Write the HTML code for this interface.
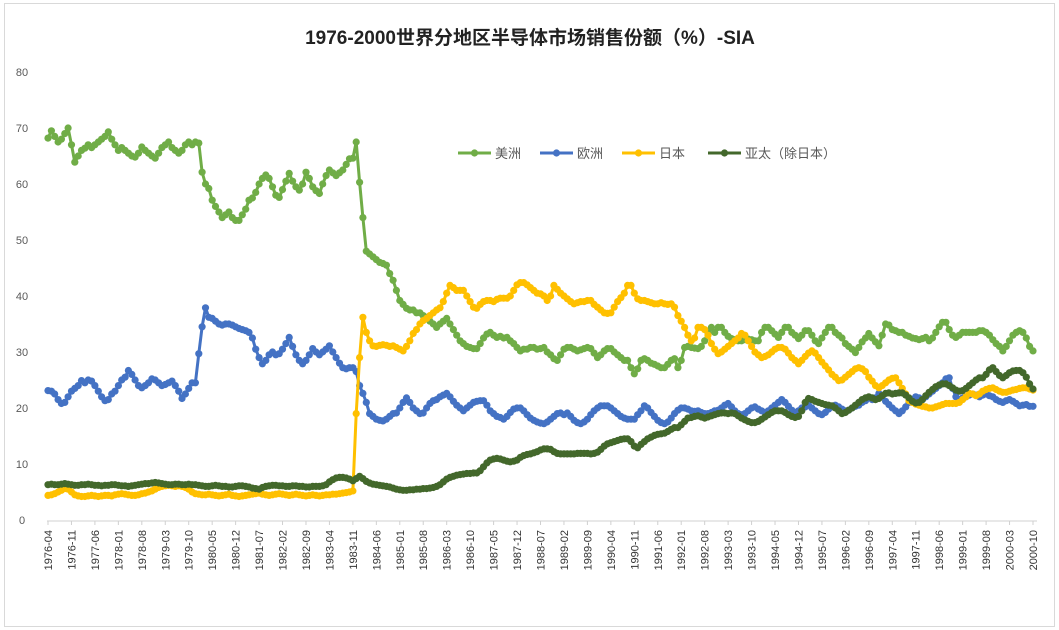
<!DOCTYPE html>
<html><head><meta charset="utf-8">
<style>
body{margin:0;background:#fff;}
#wrap{position:relative;width:1059px;height:630px;overflow:hidden;}
svg text{font-family:"Liberation Sans","Noto Sans CJK SC",sans-serif;}
</style></head>
<body>
<div id="wrap">
<svg id="chart" width="1059" height="630">
<rect x="4.5" y="3.5" width="1050" height="623" fill="#fff" stroke="#d9d9d9"/>
<text x="530" y="44" text-anchor="middle" font-size="19" font-weight="bold" fill="#222">1976-2000世界分地区半导体市场销售份额（%）-SIA</text>
<g id="yaxis"></g>
<g id="xaxis"></g>
<g id="series"></g>
<g id="legend"></g>
</svg>
</div>
<script>
const yTicks=[0,10,20,30,40,50,60,70,80];
const xLabelStart=[1976,4];
const xLabelStep=7;
const seriesNames=["美洲","欧洲","日本","亚太（除日本）"];
const america=[68.2,69.5,68.5,67.5,68,69,70,67,63.9,65,
66,66.4,67,66.5,67,67.5,68,68.5,69.3,68,
67,66,66.5,66,65.5,65,64.8,65.5,66.6,66,
65.5,65,64.6,65.5,66.5,67,67.5,66.5,66,65.5,
66,67,67.5,67,67.5,67.3,62.1,60,59.2,57.1,
56,55,54,54.5,55,54,53.5,53.5,54.5,55.5,
57.1,57.5,58.5,60,61,61.6,61,59.5,58,57.6,
59,60.5,61.9,60.5,59.5,58.9,60,62.1,61,59.5,
58.8,58.3,60,61.5,62.5,62,61.5,62,62.5,63.5,
64.5,64.6,67.5,60.3,54,48,47.5,47,46.5,46,
45.8,45.5,44,42.8,41,39.2,38.5,37.8,37.5,37.5,
37,37,36.5,36.2,35.5,35,34.4,35,35.5,36,
35,34,33,32,31.5,31,30.8,30.6,30.6,31.5,
32.5,33.2,33.5,33,32.6,32.8,32.5,32.6,32,31.5,
30.8,30.2,30.5,30.5,30.8,30.8,30.5,30.6,30.8,30,
29.5,28.8,28.5,29.5,30.5,30.8,30.8,30.5,30.2,30.4,
30.6,30.8,30.6,29.8,29,29.5,30.2,30.6,30.6,30,
29.5,29,28.5,28.5,27.2,26.1,27,28.5,28.8,28.5,
28,27.8,27.5,27.2,27.2,27.8,28.5,28.8,27.2,28.5,
30.8,31,30.8,30.7,30.6,31,32,33.5,34.4,33.5,
34.4,34.4,33.5,32.8,32.4,32.2,32,32,32.2,32.3,
32.2,32,32,33.5,34.4,34.4,33.8,33.2,32.6,33.5,
34.4,34.4,33.5,33,32.4,33,33.8,33.8,33,32,
31.5,32.5,33.5,34.4,34.4,33.5,33,32.5,31.5,31,
30.5,29.9,30.8,31.8,32.5,33.3,32.5,31.8,31.1,33,
35,34.8,34,33.8,33.5,33.5,33,32.8,32.5,32.4,
32.2,32.4,32.6,32,32.5,33.5,34.5,35.3,35.3,34,
33,32.6,33,33.5,33.5,33.5,33.5,33.5,33.8,33.8,
33.5,33,32.2,31.5,31,30.2,31,32,33,33.5,
33.8,33.5,32.5,31,30.2];
const europe=[23.1,23,22.5,21.5,20.8,21,22,23,23.5,24,
24.9,24.5,25,24.8,24,23,22,21.3,21.5,22.5,
23,24,25,25.5,26.7,26,25,24,23.6,24,
24.5,25.2,25,24.5,24,24.2,24.5,24.8,24,23,
21.7,22.5,23.5,24.5,24.5,29.7,34.5,37.9,36.2,36,
35.5,35,34.8,35,35,34.8,34.5,34.2,34,33.8,
33.5,32.5,30.5,29,27.9,28.5,29.5,30,29.5,29.7,
30.5,31.5,32.6,31,29.5,28.5,27.9,28.5,29.5,30.6,
30,29.5,30,30.5,31.1,30,29,28,27.2,27,
27.2,27.2,26.5,24,22.6,21,19,18.5,18,17.8,
17.7,18,18.5,19,19.1,20,21,21.8,21,20,
19.5,19,19.1,20,20.8,21.3,21.5,22,22.3,22.6,
22,21.2,20.5,20,19.5,20,20.5,21,21.2,21.3,
21.3,20.5,19.5,19,18.5,18.3,18,18.5,19.2,19.8,
20,20,19.5,18.8,18.2,17.8,17.5,17.3,17.2,17.5,
18,18.5,19,19.1,18.8,19.1,18.5,17.8,17.4,17.2,
17.5,18,18.8,19.5,20,20.4,20.4,20.4,20,19.5,
19,18.5,18.2,18,18,18,18.8,19.5,20.4,20,
19.2,18.5,17.8,17.4,17.2,17.5,18.2,19,19.6,20,
20,19.8,19.5,19.4,19.5,19.2,19,19,19.2,19.5,
19.6,20,20.5,20.8,20.2,19.5,19,18.8,19,19.5,
20,20.2,19.8,19.5,19.2,19.5,20,20.5,21,21.5,
21,20.3,19.6,19.2,19.5,20,20.2,20.5,20,19.5,
19,18.8,19.2,19.8,20.2,20.5,20.2,19.8,19.5,19.6,
20,20.3,20.5,21,21.3,21.8,21.5,21.8,22.6,22,
21.2,20.6,20,19.5,19,19.5,20.2,21,21.5,22,
21.8,21.5,22,22.5,23,23.5,24,24.5,25.2,25.4,
23.5,22,21.5,21.8,22,22.3,22.5,22.3,22,22.3,
22.5,22.2,22,21.5,21.2,21,21.3,21.5,21.2,20.8,
20.4,20.5,20.6,20.3,20.3];
const japan=[4.4,4.5,4.7,5.0,5.3,5.6,5.5,5.0,4.5,4.3,
4.2,4.2,4.3,4.4,4.3,4.2,4.3,4.4,4.4,4.3,
4.5,4.6,4.7,4.6,4.5,4.4,4.4,4.5,4.7,4.8,
5.0,5.2,5.5,5.8,6.0,6.1,6.2,6.1,6.0,6.1,
6.0,5.8,5.5,5.0,4.7,4.6,4.5,4.5,4.6,4.5,
4.4,4.3,4.4,4.5,4.6,4.4,4.3,4.2,4.3,4.4,
4.5,4.6,4.7,4.8,4.6,4.5,4.4,4.5,4.6,4.7,
4.6,4.5,4.4,4.5,4.6,4.5,4.4,4.3,4.4,4.5,
4.4,4.3,4.4,4.5,4.5,4.6,4.6,4.7,4.8,4.9,
5.0,5.2,19,29,36.2,33.5,32,31.1,31,31.2,
31.3,31.2,31,31.1,30.8,30.5,30.2,31,32,33.3,
34,35,35.6,36,36.5,37,37.5,37.9,39,40.5,
41.9,41.5,41,41,41,40,39,38,37.8,38.5,
39,39.2,39.2,39,39.4,39.6,39.6,39.6,40,41,
42,42.4,42.4,42,41.5,41,40.5,40.4,40,39.2,
40,41.9,41.2,40.5,40,39.5,39,38.6,38.8,39,
39,39.2,39.2,38.5,38,37.5,37,36.9,37,38,
39,39.7,40.5,41.9,41.9,40.5,39.5,39.2,39.2,39,
38.8,38.6,38.6,38.8,38.6,38.5,38.6,38,36.5,35.5,
34.4,33,32,32.5,34.4,34.4,34,33,31.5,30.5,
29.7,30,30.5,31,31.5,32,32.5,33.3,33,32,
31,30,29.5,29,29.2,29.5,30,30.5,30.8,30.8,
30.5,29.8,29,28.5,27.9,28.5,29.2,29.8,30.2,29.8,
29,28.2,27.5,26.8,26,25.5,24.9,25,25.5,26,
26.5,27,27.2,27,26.5,25.5,24.8,24,23.6,24,
24.5,25,25.3,25.4,24.5,23.5,22.5,21.3,21,20.7,
20.5,20.3,20.2,20,20,20.2,20.4,20.6,20.8,20.8,
20.8,20.8,21,21.5,22,22.6,22.5,22.2,22.5,23,
23.3,23.5,23.6,23.3,23,22.8,22.8,23,23.2,23.3,
23.5,23.6,23.6,23.4,23.2];
const asia=[6.3,6.4,6.3,6.3,6.4,6.5,6.4,6.3,6.2,6.2,
6.3,6.3,6.4,6.3,6.2,6.2,6.1,6.2,6.2,6.3,
6.3,6.2,6.1,6.1,6.0,6.1,6.2,6.3,6.4,6.5,
6.5,6.6,6.7,6.6,6.5,6.4,6.3,6.3,6.4,6.4,
6.3,6.3,6.4,6.3,6.3,6.2,6.1,6.0,6.0,6.1,
6.2,6.1,6.0,6.0,5.9,5.9,6.0,6.1,6.1,6.0,
5.9,5.7,5.6,5.5,5.8,6.0,6.1,6.2,6.2,6.1,
6.1,6.0,6.0,6.1,6.1,6.0,6.0,5.9,5.9,6.0,
6.0,6.0,6.1,6.3,6.8,7.2,7.5,7.6,7.6,7.5,
7.3,7.0,7.4,7.8,7.4,6.9,6.6,6.4,6.3,6.2,
6.1,6.0,5.9,5.7,5.5,5.4,5.3,5.3,5.4,5.4,
5.5,5.5,5.6,5.6,5.7,5.8,6.0,6.3,6.8,7.3,
7.6,7.8,8.0,8.1,8.2,8.3,8.3,8.4,8.4,8.8,
9.5,10.2,10.7,10.9,11.0,10.9,10.7,10.5,10.4,10.5,
10.7,11.2,11.5,11.7,11.8,12.0,12.2,12.5,12.7,12.7,
12.6,12.2,11.9,11.8,11.8,11.8,11.8,11.8,11.9,11.9,
11.9,11.9,11.8,11.9,12.1,12.6,13.2,13.6,13.8,14,
14.2,14.4,14.5,14.5,14,13.2,12.9,13.5,14,14.5,
14.8,15.1,15.3,15.4,15.5,15.8,16.2,16.5,16.5,17.0,
17.6,18.2,18.3,18.5,18.6,18.4,18.2,18.4,18.6,18.8,
19,19.1,19.1,19,19.1,19,18.6,18.2,17.9,17.6,
17.4,17.4,17.6,18,18.4,18.8,19.2,19.5,19.5,19.5,
19.2,18.8,18.5,18.3,18.5,19.5,21,21.7,21.5,21.2,
21,20.8,20.6,20.5,20.4,20,19.5,19,19.2,19.6,
20,20.5,21,21.5,21.8,22,21.8,21.5,21.7,22.2,
22.6,22.7,22.5,22.6,22.7,22.7,22.3,21.8,21.2,20.9,
21,21.5,22.2,22.8,23.3,23.8,24.1,24.3,24.3,24.0,
23.6,23.2,23.0,23.1,23.5,24,24.5,25,25.4,25.4,
26,26.8,27.2,26.5,25.8,25.4,25.8,26.3,26.6,26.7,
26.7,26.3,25.5,24.3,23.4];

const NS="http://www.w3.org/2000/svg";
const X0=48,X1=1033,Y0=520,Y80=72;
const N=america.length;
function xs(i){return X0+i*(X1-X0)/(N-1);}
function ys(v){return Y0-v*(Y0-Y80)/80;}
function mk(tag,attrs,parent){const e=document.createElementNS(NS,tag);for(const k in attrs)e.setAttribute(k,attrs[k]);parent.appendChild(e);return e;}

const yg=document.getElementById('yaxis');
yTicks.forEach(t=>{
  const e=mk('text',{x:22,y:ys(t)+4,'text-anchor':'middle','font-size':11,fill:'#595959'},yg);
  
  
  e.textContent=t;
});
const xg=document.getElementById('xaxis');
const axl=mk('line',{x1:X0-1,x2:X1+4,y1:Y0+1,y2:Y0+1,stroke:'#d0d0d0','stroke-width':1},xg);


for(let i=0;i<N;i+=xLabelStep){
  const m=xLabelStart[1]-1+i;
  const yr=xLabelStart[0]+Math.floor(m/12);
  const mo=(m%12)+1;
  const lab=yr+'-'+(mo<10?'0':'')+mo;
  const x=xs(i);
  const tk=mk('line',{x1:x,x2:x,y1:Y0+1,y2:Y0+5,stroke:'#d0d0d0'},xg);
  
  
  const e=mk('text',{x:0,y:0,'text-anchor':'end','font-size':11,fill:'#333',transform:'translate('+(x+4)+','+(Y0+10)+') rotate(-90)'},xg);
  
  
  e.textContent=lab;
}
const colors=["#70AD47","#4472C4","#FFC000","#43682B"];
const data=[america,europe,japan,asia];
const keys=["america","europe","japan","asia"];
const sg=document.getElementById('series');
data.forEach((arr,si)=>{
  const g=mk('g',{},sg);
  
  
  const pts=arr.map((v,i)=>xs(i).toFixed(1)+','+ys(v).toFixed(1)).join(' ');
  const pl=mk('polyline',{points:pts,fill:'none',stroke:colors[si],'stroke-width':3,'stroke-linejoin':'round'},g);
  
  
  arr.forEach((v,i)=>{
    const c=mk('circle',{cx:xs(i).toFixed(1),cy:ys(v).toFixed(1),r:3.6,fill:colors[si]},g);
    
    
  });
});
const lg=document.getElementById('legend');
const legX=[458,540,622,708];
seriesNames.forEach((nm,si)=>{
  const g=mk('g',{},lg);
  
  
  const x=legX[si];
  mk('line',{x1:x,x2:x+33,y1:153,y2:153,stroke:colors[si],'stroke-width':3},g);
  mk('circle',{cx:x+16.5,cy:153,r:3.6,fill:colors[si]},g);
  const t=mk('text',{x:x+37,y:158,'font-size':13,fill:'#595959'},g);
  
  
  t.textContent=nm;
});
</script>
</body></html>
